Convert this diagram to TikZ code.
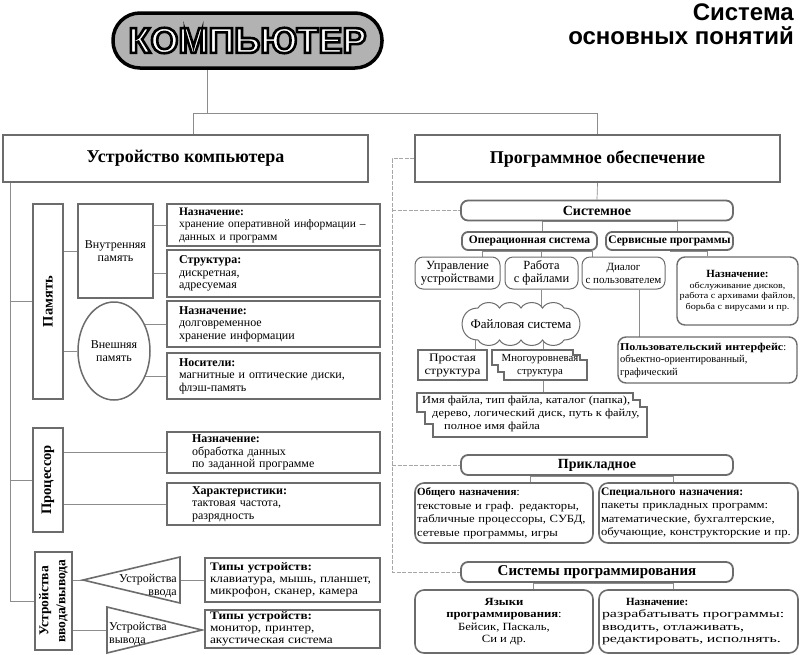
\documentclass[tikz,border=0pt]{standalone}
\usepackage{fontspec}
\setmainfont{Liberation Serif}
\setsansfont{Liberation Sans}
\newfontfamily\wideserif[FakeStretch=1.15]{Liberation Serif}
\newfontfamily\widerserif[FakeStretch=1.45]{Liberation Serif}
\usetikzlibrary{shapes.geometric}
\usetikzlibrary{backgrounds}

\begin{document}
\begin{tikzpicture}[x=1pt, y=-1pt,
  conn/.style={draw=gray!90, line width=0.7pt},
  trunk/.style={draw=gray!70, line width=0.7pt, dash pattern=on 4pt off 1.5pt},
  boxline/.style={draw=gray!85!black, line width=1.5pt, fill=white},
  txt/.style={font=\fontsize{12}{12.5}\selectfont},
  mainbox/.style={boxline, line width=2pt, minimum width=365pt, minimum height=47pt, font=\bfseries\fontsize{18}{20}\selectfont},
  sidebar/.style={boxline, line width=2pt, rotate=90, inner sep=0pt, minimum height=30pt, align=center, font=\bfseries\fontsize{14.5}{17}\selectfont},
  membox/.style={boxline, txt, align=left, minimum width=213pt, inner xsep=12pt, text width=189pt, inner ysep=0pt},
  cpubox/.style={membox, inner xsep=25pt, text width=163pt},
  typbox/.style={membox, minimum width=175pt, inner xsep=5pt, text width=165pt, font=\wideserif\fontsize{11.5}{12}\selectfont},
  band/.style={boxline, rounded corners=7pt, line width=1.8pt, minimum width=272pt, minimum height=20pt, inner sep=0pt, font=\bfseries\fontsize{14}{16}\selectfont},
  subband/.style={boxline, rounded corners=6pt, line width=1.8pt, minimum height=18pt, inner sep=0pt, font=\bfseries\fontsize{11.5}{12}\selectfont},
  soft/.style={boxline, rounded corners=8pt, line width=1pt, inner sep=0pt, align=center},
  card/.style={boxline, rounded corners=9pt, line width=1.6pt, inner sep=0pt, font=\wideserif\fontsize{11}{13.5}\selectfont},
  tri/.style={boxline, line width=1.6pt, line join=miter}
]
\useasboundingbox (0,0) rectangle (800,654);

% heading
\node[draw=black, line width=3.5pt, fill=gray!60, rounded corners=27pt, minimum width=269pt, minimum height=55pt] (computer) at (247.5,40.5) {};
\node[font=\sffamily\bfseries\fontsize{36}{36}\selectfont, text=white] (computername) at (computer.center) {\special{pdf:literal direct 0 G 2.6 w 2 Tr}КОМПЬЮТЕР\special{pdf:literal direct 0 Tr}};
\node[anchor=north east, align=right, inner sep=0pt, font=\sffamily\bfseries\fontsize{24}{24}\selectfont] (title) at (794,4) {Система\\основных понятий};
\coordinate (split) at (207,113);

\node[mainbox] (dev) at (185.5,158.5) {Устройство компьютера};
\node[mainbox] (prog) at (597.5,158.5) {Программное обеспечение};

% hardware
\coordinate (trunkL) at (10,0);
\node[sidebar, minimum width=195pt] (mem) at (48,301.5) {Память};
\node[boxline, txt, align=center, minimum width=75pt, minimum height=94pt, inner sep=0pt] (inner) at (115.5,251) {Внутренняя\\память};
\node[boxline, ellipse, txt, align=center, minimum width=72pt, minimum height=98pt, inner sep=0pt] (outer) at (114,351) {Внешняя\\память};
\node[membox, minimum height=42pt, font=\fontsize{11.5}{12.5}\selectfont] (m1) at (273.5,225) {\textbf{Назначение:}\\хранение оперативной информации –\\данных и программ};
\node[membox, minimum height=47pt] (m2) at (273.5,273.5) {\textbf{Структура:}\\дискретная,\\адресуемая};
\node[membox, minimum height=46pt] (m3) at (273.5,324) {\textbf{Назначение:}\\долговременное\\хранение информации};
\node[membox, minimum height=46pt] (m4) at (273.5,376) {\textbf{Носители:}\\магнитные и оптические диски,\\флэш-память};

\node[sidebar, minimum width=104pt] (cpu) at (48,480) {Процессор};
\node[cpubox, minimum height=41pt] (p1) at (273.5,452.5) {\textbf{Назначение:}\\обработка данных\\по заданной программе};
\node[cpubox, minimum height=42pt] (p2) at (273.5,504) {\textbf{Характеристики:}\\тактовая частота,\\разрядность};

\node[sidebar, minimum width=98pt, minimum height=37pt, font=\bfseries\fontsize{13.5}{17}\selectfont] (io) at (53.5,601) {Устройства\\ввода/вывода};
\coordinate (inTip) at (83,580);
\coordinate (inBase) at (180,580);
\draw[tri] (inTip) -- (180,557) -- (180,603) -- cycle;
\node[txt, align=right, anchor=east, inner sep=0pt] (inText) at (177,586) {Устройства\\ввода};
\coordinate (outBase) at (107,630);
\draw[tri] (107,607) -- (202,630) -- (107,653) -- cycle;
\node[txt, align=left, anchor=west, inner sep=0pt] (outText) at (109,634) {Устройства\\вывода};
\node[typbox, minimum height=44pt] (typ1) at (292.5,580) {\textbf{Типы устройств:}\\клавиатура, мышь, планшет,\\микрофон, сканер, камера};
\node[typbox, minimum height=38pt] (typ2) at (292.5,629) {\textbf{Типы устройств:}\\монитор, принтер,\\акустическая система};

% software
\coordinate (trunkR) at (392,0);
\node[band] (sys) at (597,210.5) {Системное};
\node[subband, minimum width=135pt] (os) at (529.5,241) {Операционная система};
\node[subband, minimum width=127pt] (svc) at (669.5,241) {Сервисные программы};
\node[soft, minimum width=85pt, minimum height=32pt, font=\fontsize{12.5}{13}\selectfont] (ctrl) at (457.5,273) {Управление\\устройствами};
\node[soft, minimum width=73pt, minimum height=32pt, font=\fontsize{12.5}{13}\selectfont] (files) at (541.5,273) {Работа\\с файлами};
\node[soft, minimum width=83pt, minimum height=32pt, font=\fontsize{11}{13}\selectfont] (dlg) at (623.5,273) {Диалог\\с пользователем};
\node[soft, line width=1.4pt, minimum width=121pt, minimum height=68pt, font=\wideserif\fontsize{8.8}{10.5}\selectfont] (svcgoal) at (737.5,291) {{\rmfamily\bfseries\fontsize{11}{14}\selectfont Назначение:}\\обслуживание дисков,\\работа с архивами файлов,\\борьба с вирусами и пр.};

\draw[boxline, line width=1pt] (478,340) to[out=180,in=180,looseness=1.7] (478,308) to[bend left=60] (499.5,308) to[bend left=60] (521,308) to[bend left=60] (542.5,308) to[bend left=60] (564,308) to[out=0,in=0,looseness=1.7] (564,340) to[bend left=60] (542.5,340) to[bend left=60] (521,340) to[bend left=60] (499.5,340) to[bend left=60] (478,340);
\node[inner sep=0pt, font=\fontsize{13}{14}\selectfont] (fs) at (521,324) {Файловая система};

\node[boxline, line width=2.5pt, minimum width=69pt, minimum height=30pt, inner sep=0pt, align=center, font=\wideserif\fontsize{11.5}{13}\selectfont] (simple) at (452.5,365) {Простая\\структура};
\draw[boxline, line width=2.2pt] (492,350) -- (492,365) -- (498,365) -- (498,372) -- (504,372) -- (504,380) -- (587,380) -- (587,360) -- (580,360) -- (580,355) -- (573,355) -- (573,350) -- cycle;
\node[inner sep=0pt, minimum width=95pt, minimum height=30pt, align=center, font=\fontsize{10.8}{13}\selectfont] (multi) at (540,366) {Многоуровневая\\структура};
\draw[boxline, line width=1.4pt] (417,393) -- (417,412) -- (425,412) -- (425,424) -- (433,424) -- (433,437) -- (647,437) -- (647,407) -- (640,407) -- (640,400) -- (633,400) -- (633,393) -- cycle;
\node[inner sep=0pt, align=left, anchor=north west, font=\wideserif\fontsize{10.8}{13}\selectfont] (names) at (422,396) {Имя файла, тип файла, каталог (папка),\\\hspace*{10pt}дерево, логический диск, путь к файлу,\\\hspace*{22pt}полное имя файла};
\node[soft, line width=1.4pt, minimum width=179pt, minimum height=46pt, align=left, text width=175pt, inner xsep=2pt, font=\fontsize{10.5}{12.5}\selectfont] (ui) at (707.5,360) {{\wideserif\bfseries Пользовательский интерфейс}:\\объектно-ориентированный,\\графический};

\node[band] (app) at (597,465) {Прикладное};
\node[card, minimum width=178pt, minimum height=60pt, align=left, text width=174pt, inner xsep=2pt] (gen) at (504,513) {{\rmfamily\bfseries Общего назначения}:\\текстовые и граф. редакторы,\\табличные процессоры, СУБД,\\сетевые программы, игры};
\node[card, minimum width=199pt, minimum height=60pt, align=left, text width=195pt, inner xsep=2pt] (spec) at (698.5,513) {{\rmfamily\bfseries\fontsize{11.5}{13.5}\selectfont Специального назначения:}\\пакеты прикладных программ:\\математические, бухгалтерские,\\обучающие, конструкторские и пр.};

\node[band, font=\bfseries\fontsize{15}{17}\selectfont] (sysprog) at (597,572) {Системы программирования};
\node[card, minimum width=178pt, minimum height=63pt, align=center, font=\wideserif\fontsize{11}{12.5}\selectfont] (lang) at (504,621.5) {\textbf{Языки}\\\textbf{программирования}:\\Бейсик, Паскаль,\\Си и др.};
\node[card, minimum width=199pt, minimum height=63pt, align=left, text width=193pt, inner xsep=3pt, font=\widerserif\fontsize{11}{12.5}\selectfont] (pgoal) at (698.5,621.5) {\hspace*{24pt}{\rmfamily\bfseries Назначение:}\\разрабатывать программы:\\вводить, отлаживать,\\редактировать, исполнять.};

\begin{pgfonlayer}{background}
  \draw[conn] (split |- computer.south) -- (split);
  \draw[conn] ([xshift=7.5pt]dev.north) |- (prog.north |- split) -- (prog.north);
  % left side
  \draw[conn] (dev.south -| trunkL) |- (io.north);
  \draw[conn] (trunkL |- mem.north) -- (mem.north);
  \draw[conn] (trunkL |- cpu.north) -- (cpu.north);
  \draw[conn] (mem.south |- inner.west) -- (inner.west);
  \draw[conn] (mem.south |- outer.west) -- (outer.west);
  \draw[conn] (inner.east |- m1.west) -- (m1.west);
  \draw[conn] (inner.east |- m2.west) -- (m2.west);
  \draw[conn] (outer.center |- m3.west) -- (m3.west);
  \draw[conn] (outer.center |- m4.west) -- (m4.west);
  \draw[conn] (cpu.south |- p1.west) -- (p1.west);
  \draw[conn] (cpu.south |- p2.west) -- (p2.west);
  \draw[conn] (io.south |- inTip) -- (inTip);
  \draw[conn] (inBase) -- (typ1.west);
  \draw[conn] (io.south |- outBase) -- (outBase);
  % right side
  \draw[trunk] (prog.west) -| (trunkR |- sysprog.west) -- (sysprog.west);
  \draw[trunk] (trunkR |- sys.west) -- (sys.west);
  \draw[trunk] (trunkR |- app.west) -- (app.west);
  \draw[conn] (prog.south) -- (sys.north);
  \draw[conn] ([xshift=13pt]os.north) |- (sys.south);
  \draw[conn] ([xshift=8pt]svc.north) |- (sys.south);
  \draw[conn] ([xshift=25pt]ctrl.north) |- (os.south);
  \draw[conn] (files.north) |- (os.south);
  \draw[conn] ([xshift=-31pt]dlg.north) |- (os.south);
  \draw[conn] ([xshift=-30pt]svcgoal.north) |- (svc.south);
  \draw[conn] (files.south) |- (fs.center);
  \draw[conn] ([xshift=23pt]simple.north) |- (fs.center);
  \draw[conn] ([xshift=3pt]multi.north) |- (fs.center);
  \draw[conn] ([xshift=3pt]multi.south) |- (names.center);
  \draw[conn] ([xshift=16pt]dlg.south) |- (ui.center);
  \draw[conn] ([xshift=26pt]gen.north) |- (app.south);
  \draw[conn] ([xshift=-25pt]spec.north) |- (app.south);
  \draw[conn] ([xshift=29pt]lang.north) |- (sysprog.south);
  \draw[conn] ([xshift=-25pt]pgoal.north) |- (sysprog.south);
\end{pgfonlayer}
\end{tikzpicture}
\end{document}
